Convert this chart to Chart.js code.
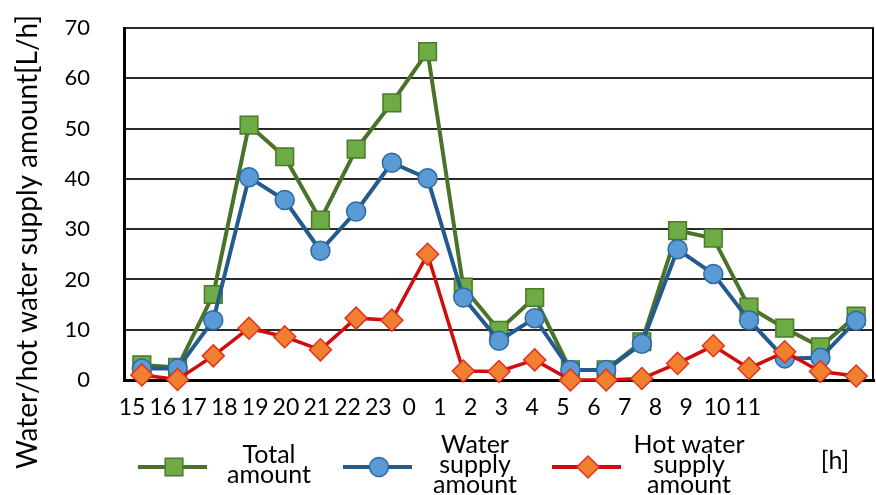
<!DOCTYPE html>
<html>
<head>
<meta charset="utf-8">
<script src="https://cdn.jsdelivr.net/npm/chart.js@4.4.0/dist/chart.umd.min.js"></script>
<style>
    html, body { margin: 0; padding: 0; background: #fff; overflow: hidden; }
    canvas { display: block; }
</style>
</head>
<body>
<canvas id="myChart" width="876" height="495"></canvas>
<script>
// hours of the day, from 15h to 11h next morning
var hours = ["15", "16", "17", "18", "19", "20", "21", "22", "23", "0", "1",
             "2", "3", "4", "5", "6", "7", "8", "9", "10", "11"];

var totalAmount    = [3.0, 2.5, 17.0, 50.7, 44.4, 31.8, 45.9, 55.1, 65.3, 18.5, 9.9,
                      16.4, 2.0, 2.0, 7.6, 29.7, 28.2, 14.5, 10.3, 6.6, 12.7];
var waterSupply    = [2.3, 2.3, 11.9, 40.3, 35.8, 25.7, 33.5, 43.2, 40.1, 16.4, 7.8,
                      12.3, 2.0, 2.0, 7.2, 26.0, 21.1, 11.9, 4.3, 4.4, 11.8];
var hotWaterSupply = [1.0, 0.1, 4.8, 10.3, 8.6, 6.0, 12.3, 11.9, 25.0, 1.8, 1.7,
                      4.0, 0.0, 0.0, 0.3, 3.3, 6.8, 2.3, 5.6, 1.7, 0.8];

var yTicks = [0, 10, 20, 30, 40, 50, 60, 70];
var legendLabels = [["Total", "amount"], ["Water", "supply", "amount"], ["Hot water", "supply", "amount"]];
var yTitle = "Water/hot water supply amount[L/h]";
var xUnit = "[h]";

var FONT = "Lato";

// marker drawing used by the hand made legend
function marker(ctx, style, x, y, r) {
    ctx.beginPath();
    if (style === "rect") {
        var s = r * Math.SQRT1_2;
        ctx.rect(x - s, y - s, 2 * s, 2 * s);
    } else if (style === "rectRot") {
        ctx.moveTo(x, y - r);
        ctx.lineTo(x + r, y);
        ctx.lineTo(x, y + r);
        ctx.lineTo(x - r, y);
        ctx.closePath();
    } else {
        ctx.arc(x, y, r, 0, Math.PI * 2);
    }
    ctx.fill();
    ctx.stroke();
}

var extraText = {
    id: "extraText",
    beforeDatasetsDraw: function (chart) {
        // right frame line of the plot
        var a = chart.chartArea, ctx = chart.ctx;
        ctx.save();
        ctx.strokeStyle = "#000";
        ctx.lineWidth = 2;
        ctx.beginPath();
        ctx.moveTo(a.right - 1, a.top);
        ctx.lineTo(a.right - 1, a.bottom);
        ctx.stroke();
        ctx.restore();
    },
    afterDraw: function (chart) {
        var ctx = chart.ctx;

        // y axis title, centred on the whole picture height
        ctx.save();
        ctx.fillStyle = "#000";
        ctx.font = "28px " + FONT;
        ctx.textAlign = "center";
        ctx.textBaseline = "middle";
        ctx.translate(28, 242);
        ctx.rotate(-Math.PI / 2);
        ctx.fillText(yTitle, 0, 0);
        ctx.restore();

        // legend
        var lineStart = [138, 343, 552];
        var textCenter = [269, 475, 689];
        var ly = 467;
        chart.data.datasets.forEach(function (ds, i) {
            var x0 = lineStart[i];
            ctx.save();
            ctx.strokeStyle = ds.borderColor;
            ctx.lineWidth = 4;
            ctx.beginPath();
            ctx.moveTo(x0, ly);
            ctx.lineTo(x0 + 69, ly);
            ctx.stroke();
            ctx.fillStyle = ds.pointBackgroundColor;
            ctx.strokeStyle = ds.pointBorderColor;
            ctx.lineWidth = ds.pointBorderWidth;
            marker(ctx, ds.pointStyle, x0 + 36, ly, ds.pointRadius);

            var lines = legendLabels[i];
            ctx.fillStyle = "#000";
            ctx.font = "25px " + FONT;
            ctx.textAlign = "center";
            ctx.textBaseline = "middle";
            var lh = 20;
            var top = 465 - (lines.length - 1) * lh / 2;
            lines.forEach(function (t, k) {
                ctx.fillText(t, textCenter[i], top + k * lh);
            });
            ctx.restore();
        });

        ctx.save();
        ctx.fillStyle = "#000";
        ctx.font = "25px " + FONT;
        ctx.textAlign = "center";
        ctx.textBaseline = "middle";
        ctx.fillText(xUnit, 835, 461);
        ctx.restore();
    }
};

var ctx = document.getElementById("myChart").getContext("2d");
var chart = new Chart(ctx, {
    type: "line",
    data: {
        labels: hours,
        datasets: [{
            label: "Total amount",
            data: totalAmount,
            borderColor: "#4a7229",
            borderWidth: 4,
            pointStyle: "rect",
            pointRadius: 12.5,
            pointBackgroundColor: "#6eab45",
            pointBorderColor: "#4a7a2a",
            pointBorderWidth: 1.5,
            order: 3
        }, {
            label: "Water supply amount",
            data: waterSupply,
            borderColor: "#235b8e",
            borderWidth: 4,
            pointStyle: "circle",
            pointRadius: 9.5,
            pointBackgroundColor: "#5b9bd5",
            pointBorderColor: "#2d6aa3",
            pointBorderWidth: 1.5,
            order: 2
        }, {
            label: "Hot water supply amount",
            data: hotWaterSupply,
            borderColor: "#d00c0c",
            borderWidth: 3.5,
            pointStyle: "rectRot",
            pointRadius: 11,
            pointBackgroundColor: "#f08030",
            pointBorderColor: "#e0321e",
            pointBorderWidth: 1.5,
            order: 1
        }]
    },
    options: {
        responsive: false,
        animation: false,
        clip: false,
        layout: { autoPadding: false, padding: { top: 28, right: 2, bottom: 70, left: 0 } },
        plugins: {
            legend: { display: false },
            tooltip: { enabled: false }
        },
        elements: { line: { tension: 0 } },
        scales: {
            x: {
                type: "category",
                offset: true,
                ticks: { display: false },
                grid: { display: false },
                border: { display: true, color: "#000", width: 3 },
                afterFit: function (s) { s.height = 0; }
            },
            x2: {
                type: "linear",
                position: "bottom",
                min: -0.26,
                max: 24.1,
                // invisible tick marks only push the labels down
                grid: { display: true, drawOnChartArea: false, drawTicks: true, tickLength: 14, tickColor: "rgba(0,0,0,0)" },
                border: { display: false },
                ticks: {
                    stepSize: 1,
                    autoSkip: false,
                    maxRotation: 0,
                    includeBounds: false,
                    padding: 0,
                    color: "#000",
                    font: { family: FONT, size: 23 },
                    callback: function (v) {
                        var i = Math.round(v);
                        return (Math.abs(v - i) < 1e-6 && hours[i] !== undefined) ? hours[i] : "";
                    }
                },
                afterFit: function (s) { s.height = 45; }
            },
            y: {
                min: yTicks[0],
                max: yTicks[yTicks.length - 1],
                afterBuildTicks: function (s) {
                    s.ticks = yTicks.map(function (v) { return { value: v }; });
                },
                grid: { color: "#2a2a2a", lineWidth: 2, drawTicks: true, tickLength: 34, tickColor: "rgba(0,0,0,0)" },
                border: { display: true, color: "#000", width: 3 },
                ticks: {
                    padding: 0,
                    color: "#000",
                    font: { family: FONT, size: 22 }
                },
                afterFit: function (s) { s.width = 124; }
            }
        }
    },
    plugins: [extraText]
});
</script>
</body>
</html>
